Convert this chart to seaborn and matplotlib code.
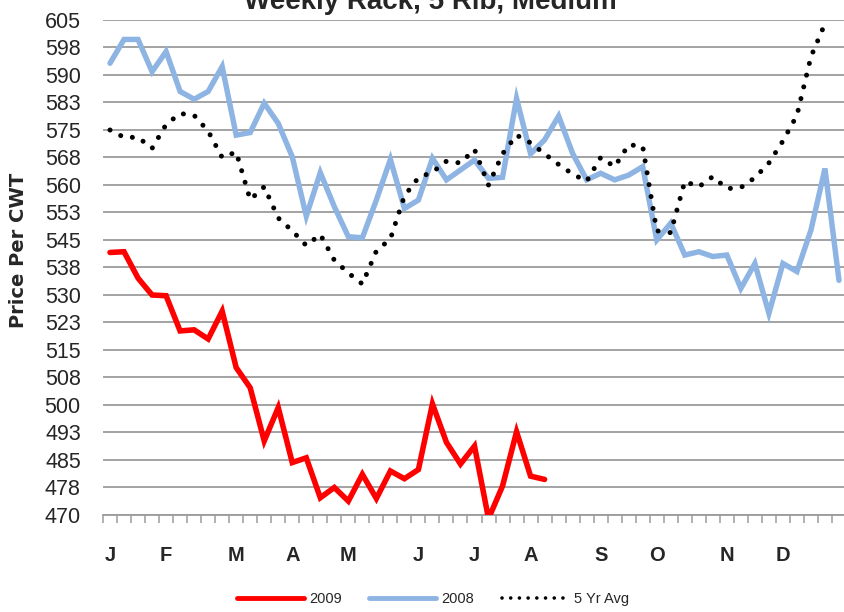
import numpy as np
import pandas as pd
import matplotlib
matplotlib.use("Agg")
import matplotlib.pyplot as plt
import seaborn as sns
from matplotlib.lines import Line2D

# ---------------- data ----------------
prices_2009 = [541.6, 541.8, 534.6, 530.0, 529.8, 520.2, 520.5, 518.0, 525.6, 510.2,
               504.7, 490.2, 499.3, 484.3, 485.6, 474.7, 477.5, 473.8, 481.1, 474.5,
               482.0, 479.9, 482.4, 500.3, 489.8, 483.9, 488.8, 469.0, 477.9, 492.7,
               480.6, 479.7]
prices_2008 = [593.2, 599.7, 599.7, 590.9, 596.4, 585.5, 583.4, 585.5, 592.3, 573.6,
               574.3, 582.3, 576.8, 567.7, 551.5, 563.4, 554.1, 545.9, 545.6, 555.9,
               567.0, 553.6, 555.9, 567.3, 561.4, 564.1, 566.8, 561.8, 562.1, 583.6,
               568.5, 572.3, 578.8, 568.6, 561.4, 563.2, 561.4, 562.7, 565.0, 545.0,
               549.6, 540.9, 541.8, 540.5, 540.9, 531.8, 538.6, 525.0, 538.6, 536.4,
               547.7, 564.5, 534.0]
avg_5yr = [575.0, 573.0, 573.0, 570.0, 576.5, 579.5, 579.0, 574.7, 567.5, 569.0,
           556.0, 559.5, 551.0, 547.5, 543.5, 546.5, 539.5, 536.0, 533.0, 542.0,
           545.3, 557.0, 562.0, 563.5, 566.5, 566.0, 569.7, 560.0, 568.5, 573.6,
           571.5, 568.5, 565.6, 563.0, 561.0, 567.5, 565.0, 571.0, 570.5, 547.5,
           547.0, 561.0, 559.5, 562.3, 559.0, 559.3, 562.0, 566.0, 572.0, 579.0,
           595.0, 604.0]

month_labels = ["J", "F", "M", "A", "M", "J", "J", "A", "S", "O", "N", "D"]
month_weeks = [0, 4, 9, 13, 17, 22, 26, 30, 35, 39, 44, 48]
y_ticks = [470, 477.5, 485, 492.5, 500, 507.5, 515, 522.5, 530, 537.5, 545,
           552.5, 560, 567.5, 575, 582.5, 590, 597.5, 605]
y_tick_labels = ["470", "478", "485", "493", "500", "508", "515", "523", "530", "538",
                 "545", "553", "560", "568", "575", "583", "590", "598", "605"]
series_names = ["2009", "2008", "5 Yr Avg"]

# ---------------- style ----------------
sns.set_theme(style="white")
plt.rcParams["font.family"] = ["Liberation Sans", "DejaVu Sans"]

RED = "#FF0000"
BLUE = "#8DB4E2"
GRID = "#9C9C9C"

W, H = 844, 612
fig = plt.figure(figsize=(W / 100, H / 100), dpi=100)
ax = fig.add_axes([103 / W, 1 - 515 / H, 743 / W, 495 / H])

df08 = pd.DataFrame({"week": range(len(prices_2008)), "price": prices_2008})
df09 = pd.DataFrame({"week": range(len(prices_2009)), "price": prices_2009})
dfav = pd.DataFrame({"week": range(len(avg_5yr)), "price": avg_5yr})

sns.lineplot(data=df08, x="week", y="price", ax=ax, color=BLUE, lw=3.9,
             solid_joinstyle="miter", zorder=3)
sns.lineplot(data=dfav, x="week", y="price", ax=ax, color="black", lw=3.6, zorder=4)
sns.lineplot(data=df09, x="week", y="price", ax=ax, color=RED, lw=4.0,
             solid_joinstyle="miter", zorder=5)

avg_line = ax.lines[1]
avg_line.set_dashes((0.01, 2.4))
avg_line.set_dash_capstyle("round")

ax.set_xlim(-0.5, 52.5)
ax.set_ylim(470, 605)

ax.set_yticks(y_ticks, y_tick_labels)
ax.yaxis.grid(True, color=GRID, lw=1.3)
ax.set_axisbelow(True)

ax.set_xticks(month_weeks, month_labels)
ax.set_xticks(np.arange(-0.5, 53, 1), minor=True)
ax.tick_params(axis="x", which="major", length=0, pad=22, labelsize=14.5)
ax.tick_params(axis="x", which="minor", bottom=True, length=6, width=1.1,
               color=GRID, direction="out")
for lab in ax.get_xticklabels():
    lab.set_fontweight("bold")
ax.tick_params(axis="y", length=0, pad=16, labelsize=15.5)
ax.set_xlabel("")
ax.set_ylabel("")

for s in ["left", "top", "right"]:
    ax.spines[s].set_visible(False)
ax.spines["bottom"].set_color(GRID)
ax.spines["bottom"].set_linewidth(1.3)

fig.text(430 / W, 1 - 9 / H, "Weekly Rack, 5 Rib, Medium", ha="center", va="baseline",
         fontsize=20, fontweight="bold")
fig.text(19 / W, 1 - 250 / H, "Price Per CWT", rotation=90, ha="center", va="center",
         fontsize=14, fontweight="bold", family=["DejaVu Sans"])

handles = [
    Line2D([], [], color=RED, lw=3.5),
    Line2D([], [], color=BLUE, lw=3.5),
    Line2D([], [], color="black", lw=2.6, dashes=(0.01, 2.4), dash_capstyle="round"),
]
fig.legend(handles, series_names, loc="center", bbox_to_anchor=(433 / W, 1 - 599 / H),
           ncol=3, frameon=False, fontsize=10.5, handlelength=4.6, handletextpad=0.35,
           columnspacing=1.9)

fig.savefig("out.png", dpi=100)
